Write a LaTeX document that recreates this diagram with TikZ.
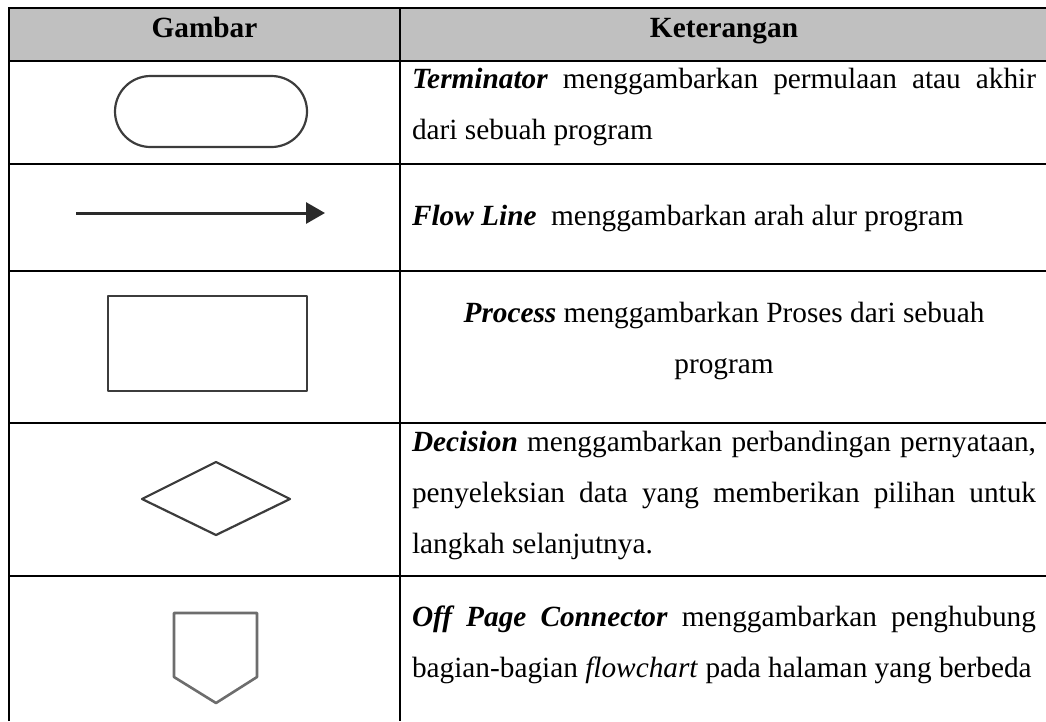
\documentclass[tikz,border=0pt]{standalone}
\usepackage{fontspec}
\setmainfont{Liberation Serif}
\usetikzlibrary{arrows.meta}
\definecolor{hdr}{RGB}{192,192,192}
\definecolor{shp}{RGB}{60,60,60}
\begin{document}
\begin{tikzpicture}[x=1pt,y=-1pt,
  tline/.style={line width=2.9pt, draw=black},
  symb/.style={draw=shp, line width=2.2pt, line join=round},
  txt/.style={inner sep=0pt, outer sep=0pt, font=\fontsize{29.3}{35}\selectfont},
  lline/.style={txt, anchor=base west},
  cline/.style={txt, anchor=base},
]
\useasboundingbox (0,0) rectangle (1046,721);
% header
\fill[hdr] (9,8) rectangle (1050,61);
% grid
\draw[tline] (9,721) -- (9,8) -- (1050,8);
\draw[tline] (400,8) -- (400,721);
\foreach \yy in {61,164,271,423,576} \draw[tline] (9,\yy) -- (1050,\yy);

\node[cline] (h1) at (204.5,37) {\textbf{Gambar}};
\node[cline] (h2) at (724,37) {\textbf{Keterangan}};

% symbols
\draw[symb, rounded corners=35.5pt] (115,76) rectangle (307,147);
\coordinate (fa) at (76,213);
\coordinate (fb) at (325,213);
\draw[line width=3pt, draw=shp!70!black, -{Triangle[length=19pt,width=21pt]}] (fa) -- (fb);
\draw[symb] (108,296) rectangle (307,391);
\draw[symb] (142,499) -- (216,462) -- (290,499) -- (216,535) -- cycle;
\draw[symb, draw=shp!75, line width=2.6pt] (174,613) -- (257,613) -- (257,677) -- (216,703) -- (174,677) -- cycle;

% descriptions
\node[lline] (t1) at (412,88) {\makebox[624pt][s]{\textbf{\textit{Terminator}} menggambarkan permulaan atau akhir}};
\node[lline] (t2) at (412,139) {dari sebuah program};
\node[lline] (f1) at (412,225) {\textbf{\textit{Flow Line}}\ \ menggambarkan arah alur program};
\node[cline] (p1) at (724,322) {\textbf{\textit{Process}} menggambarkan Proses dari sebuah};
\node[cline] (p2) at (724,373) {program};
\node[lline] (d1) at (412,451) {\makebox[624pt][s]{\textbf{\textit{Decision}} menggambarkan perbandingan pernyataan,}};
\node[lline] (d2) at (412,502) {\makebox[624pt][s]{penyeleksian data yang memberikan pilihan untuk}};
\node[lline] (d3) at (412,553) {langkah selanjutnya.};
\node[lline] (o1) at (412,626) {\makebox[624pt][s]{\textbf{\textit{Off Page Connector}} menggambarkan penghubung}};
\node[lline] (o2) at (412,677) {bagian-bagian \textit{flowchart} pada halaman yang berbeda};
\end{tikzpicture}
\end{document}
